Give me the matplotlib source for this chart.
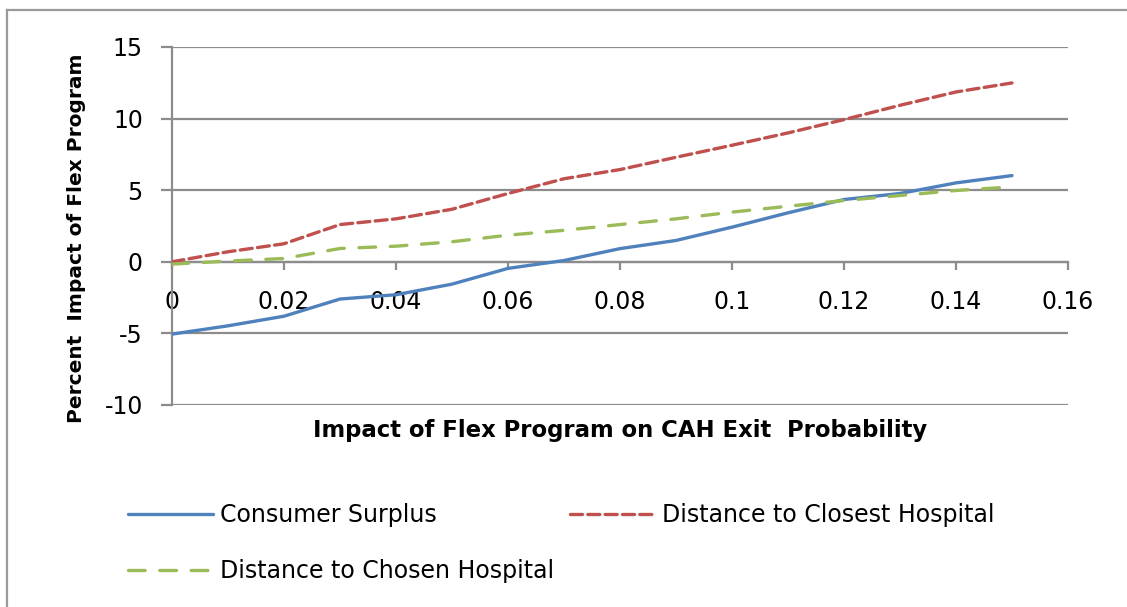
import matplotlib
matplotlib.use("Agg")
import matplotlib.pyplot as plt
from matplotlib.lines import Line2D

plt.rcParams['font.family'] = ['DejaVu Sans']

x_vals = [0.00, 0.01, 0.02, 0.03, 0.04, 0.05, 0.06, 0.07,
          0.08, 0.09, 0.10, 0.11, 0.12, 0.13, 0.14, 0.15]
consumer_surplus = [-5.05, -4.47, -3.8, -2.6, -2.3, -1.56, -0.46, 0.09,
                    0.92, 1.49, 2.42, 3.42, 4.35, 4.77, 5.51, 6.02]
dist_closest = [0.0, 0.7, 1.26, 2.6, 3.0, 3.67, 4.77, 5.8,
                6.44, 7.3, 8.14, 9.0, 9.93, 10.93, 11.86, 12.49]
dist_chosen = [-0.16, 0.05, 0.23, 0.93, 1.09, 1.4, 1.86, 2.2,
               2.6, 3.0, 3.47, 3.88, 4.28, 4.63, 4.98, 5.23]

series_names = ["Consumer Surplus", "Distance to Closest Hospital",
                "Distance to Chosen Hospital"]
x_ticks = [0, 0.02, 0.04, 0.06, 0.08, 0.1, 0.12, 0.14, 0.16]
x_tick_labels = ["0", "0.02", "0.04", "0.06", "0.08", "0.1", "0.12", "0.14", "0.16"]
y_ticks = [-10, -5, 0, 5, 10, 15]
y_tick_labels = ["-10", "-5", "0", "5", "10", "15"]
x_label = "Impact of Flex Program on CAH Exit  Probability"
y_label = "Percent  Impact of Flex Program"

W, H = 1127, 607
fig = plt.figure(figsize=(W / 100, H / 100), dpi=100)

# chart frame (partially cropped by the image edges)
frame_col = '#9a9a9a'
fig.add_artist(Line2D([7 / W, 7 / W], [0, 1 - 10 / H], transform=fig.transFigure,
                      color=frame_col, lw=1.6))
fig.add_artist(Line2D([7 / W, 1], [1 - 10 / H, 1 - 10 / H], transform=fig.transFigure,
                      color=frame_col, lw=1.6))

L, R, T, B = 172, 1068, 47, 405
ax = fig.add_axes([L / W, 1 - B / H, (R - L) / W, (B - T) / H])

grey = '#8c8c8c'
blue = '#4F81BD'
red = '#C0504D'
green = '#9BBB59'

l1, = ax.plot(x_vals, consumer_surplus, color=blue, lw=2.4, solid_capstyle='round',
              solid_joinstyle='round', label=series_names[0], zorder=3)
l2, = ax.plot(x_vals, dist_closest, color=red, lw=2.4, dashes=(3.6, 1.6),
              dash_capstyle='round', label=series_names[1], zorder=3)
l3, = ax.plot(x_vals, dist_chosen, color=green, lw=2.4, dashes=(5.0, 4.4),
              dash_capstyle='round', label=series_names[2], zorder=3)

ax.set_xlim(0, 0.16)
ax.set_ylim(-10, 15)
ax.set_xticks(x_ticks)
ax.set_xticklabels(x_tick_labels)
ax.set_yticks(y_ticks)
ax.set_yticklabels(y_tick_labels)

ax.grid(axis='y', color=grey, lw=1.6)
ax.set_axisbelow(True)

for s in ['top', 'right']:
    ax.spines[s].set_visible(False)
ax.spines['left'].set_color(grey)
ax.spines['left'].set_linewidth(1.6)
ax.spines['bottom'].set_position(('data', 0))
ax.spines['bottom'].set_color(grey)
ax.spines['bottom'].set_linewidth(1.6)

ax.tick_params(axis='x', direction='out', length=6, width=1.6, color=grey,
               labelsize=17, pad=14)
ax.tick_params(axis='y', direction='out', length=8, width=1.6, color=grey,
               labelsize=17, pad=13)

fig.text((L + R) / 2 / W, 1 - 430 / H, x_label, ha='center', va='center',
         fontsize=16.4, fontweight='bold')
fig.text(77 / W, 1 - 238 / H, y_label, ha='center', va='center',
         rotation=90, fontsize=14.5, fontweight='bold')

fig.legend([l1, l3, l2], [series_names[0], series_names[2], series_names[1]],
           loc='upper left', bbox_to_anchor=(107 / W, 1 - 482 / H),
           ncol=2, frameon=False, fontsize=17, handlelength=3.6,
           handletextpad=0.3, columnspacing=0.64, labelspacing=1.35)

fig.savefig("out.png", dpi=100)
